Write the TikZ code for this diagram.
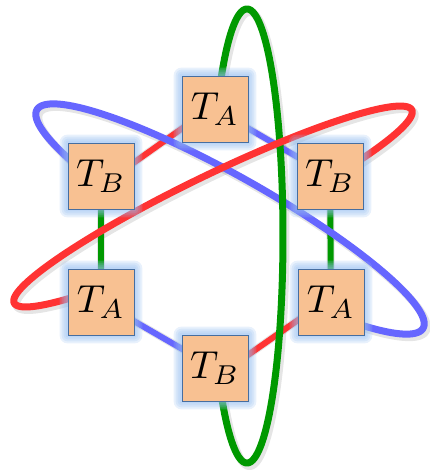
\documentclass[tikz,border=0pt]{standalone}
\usetikzlibrary{calc}
\definecolor{gr}{RGB}{0,153,0}
\definecolor{bl}{RGB}{102,102,255}
\definecolor{rd}{RGB}{255,51,51}
\definecolor{boxfill}{RGB}{248,193,146}
\definecolor{boxedge}{RGB}{70,110,160}
\definecolor{glowc}{RGB}{150,190,240}
\pgfdeclarelayer{bg}
\pgfdeclarelayer{glowlayer}
\pgfsetlayers{bg,glowlayer,main}
\newcommand{\bigT}[1]{\scalebox{3.9}{$T_{#1}$}}
\begin{document}
\begin{tikzpicture}[x=1pt,y=-1pt,
  loopline/.style={line width=7pt},
  segline/.style={line width=6pt},
  shadowline/.style={line width=8pt, black, opacity=0.10, shift={(2.5,3)}},
  tbox/.style={draw=boxedge, line width=0.8pt, fill=boxfill, minimum size=66pt, inner sep=0pt}
]
\useasboundingbox (0,0) rectangle (430,472);
% boxes
\node[tbox] (top) at (215,109) {\bigT{A}};
\node[tbox] (ul)  at (101,176) {\bigT{B}};
\node[tbox] (ur)  at (330,176) {\bigT{B}};
\node[tbox] (ll)  at (101,302) {\bigT{A}};
\node[tbox] (lr)  at (331,302) {\bigT{A}};
\node[tbox] (bot) at (215,368) {\bigT{B}};
% glow
\begin{pgfonlayer}{glowlayer}
\foreach \n in {top,ul,ur,ll,lr,bot}{
  \foreach \d in {8,6,4,2}{
    \fill[glowc, opacity=0.22, rounded corners=\d pt] ($(\n.south west)+(-\d,\d)$) rectangle ($(\n.north east)+(\d,-\d)$);
  }
}
\end{pgfonlayer}
% lines
\begin{pgfonlayer}{bg}
% shadows
\draw[shadowline] (ul.center) -- (ll.center);
\draw[shadowline] (ur.center) -- (lr.center);
\draw[shadowline] (top.center) -- (ur.center);
\draw[shadowline] (ll.center) -- (bot.center);
\draw[shadowline] ($(ul.center)+(0,10)$) -- ($(top.center)+(0,-4)$);
\draw[shadowline] ($(bot.center)+(0,10)$) -- ($(lr.center)+(0,-5)$);
\draw[shadowline] plot[domain=135:405, samples=200] ({230+193.1*cos(\x)-20.7*sin(\x)}, {219+109.2*cos(\x)+36.5*sin(\x)});
\draw[shadowline] plot[domain=130:410, samples=200] ({247-36*sin(\x)}, {236+227*cos(\x)});
\draw[shadowline] plot[domain=135:410, samples=200] ({213+198.8*cos(\x)+13.5*sin(\x)}, {206.5-96.5*cos(\x)+27.9*sin(\x)});
% straight bonds
\draw[segline, gr] (ul.center) -- (ll.center);
\draw[segline, gr] (ur.center) -- (lr.center);
\draw[segline, bl] (top.center) -- (ur.center);
\draw[segline, bl] (ll.center) -- (bot.center);
\draw[segline, rd] ($(ul.center)+(0,10)$) -- ($(top.center)+(0,-4)$);
\draw[segline, rd] ($(bot.center)+(0,10)$) -- ($(lr.center)+(0,-5)$);
% loops
\draw[loopline, bl] plot[domain=135:405, samples=200] ({230+193.1*cos(\x)-20.7*sin(\x)}, {219+109.2*cos(\x)+36.5*sin(\x)});
\draw[loopline, gr] plot[domain=130:410, samples=200] ({247-36*sin(\x)}, {236+227*cos(\x)});
\draw[loopline, rd] plot[domain=135:410, samples=200] ({213+198.8*cos(\x)+13.5*sin(\x)}, {206.5-96.5*cos(\x)+27.9*sin(\x)});
\end{pgfonlayer}
\end{tikzpicture}
\end{document}
